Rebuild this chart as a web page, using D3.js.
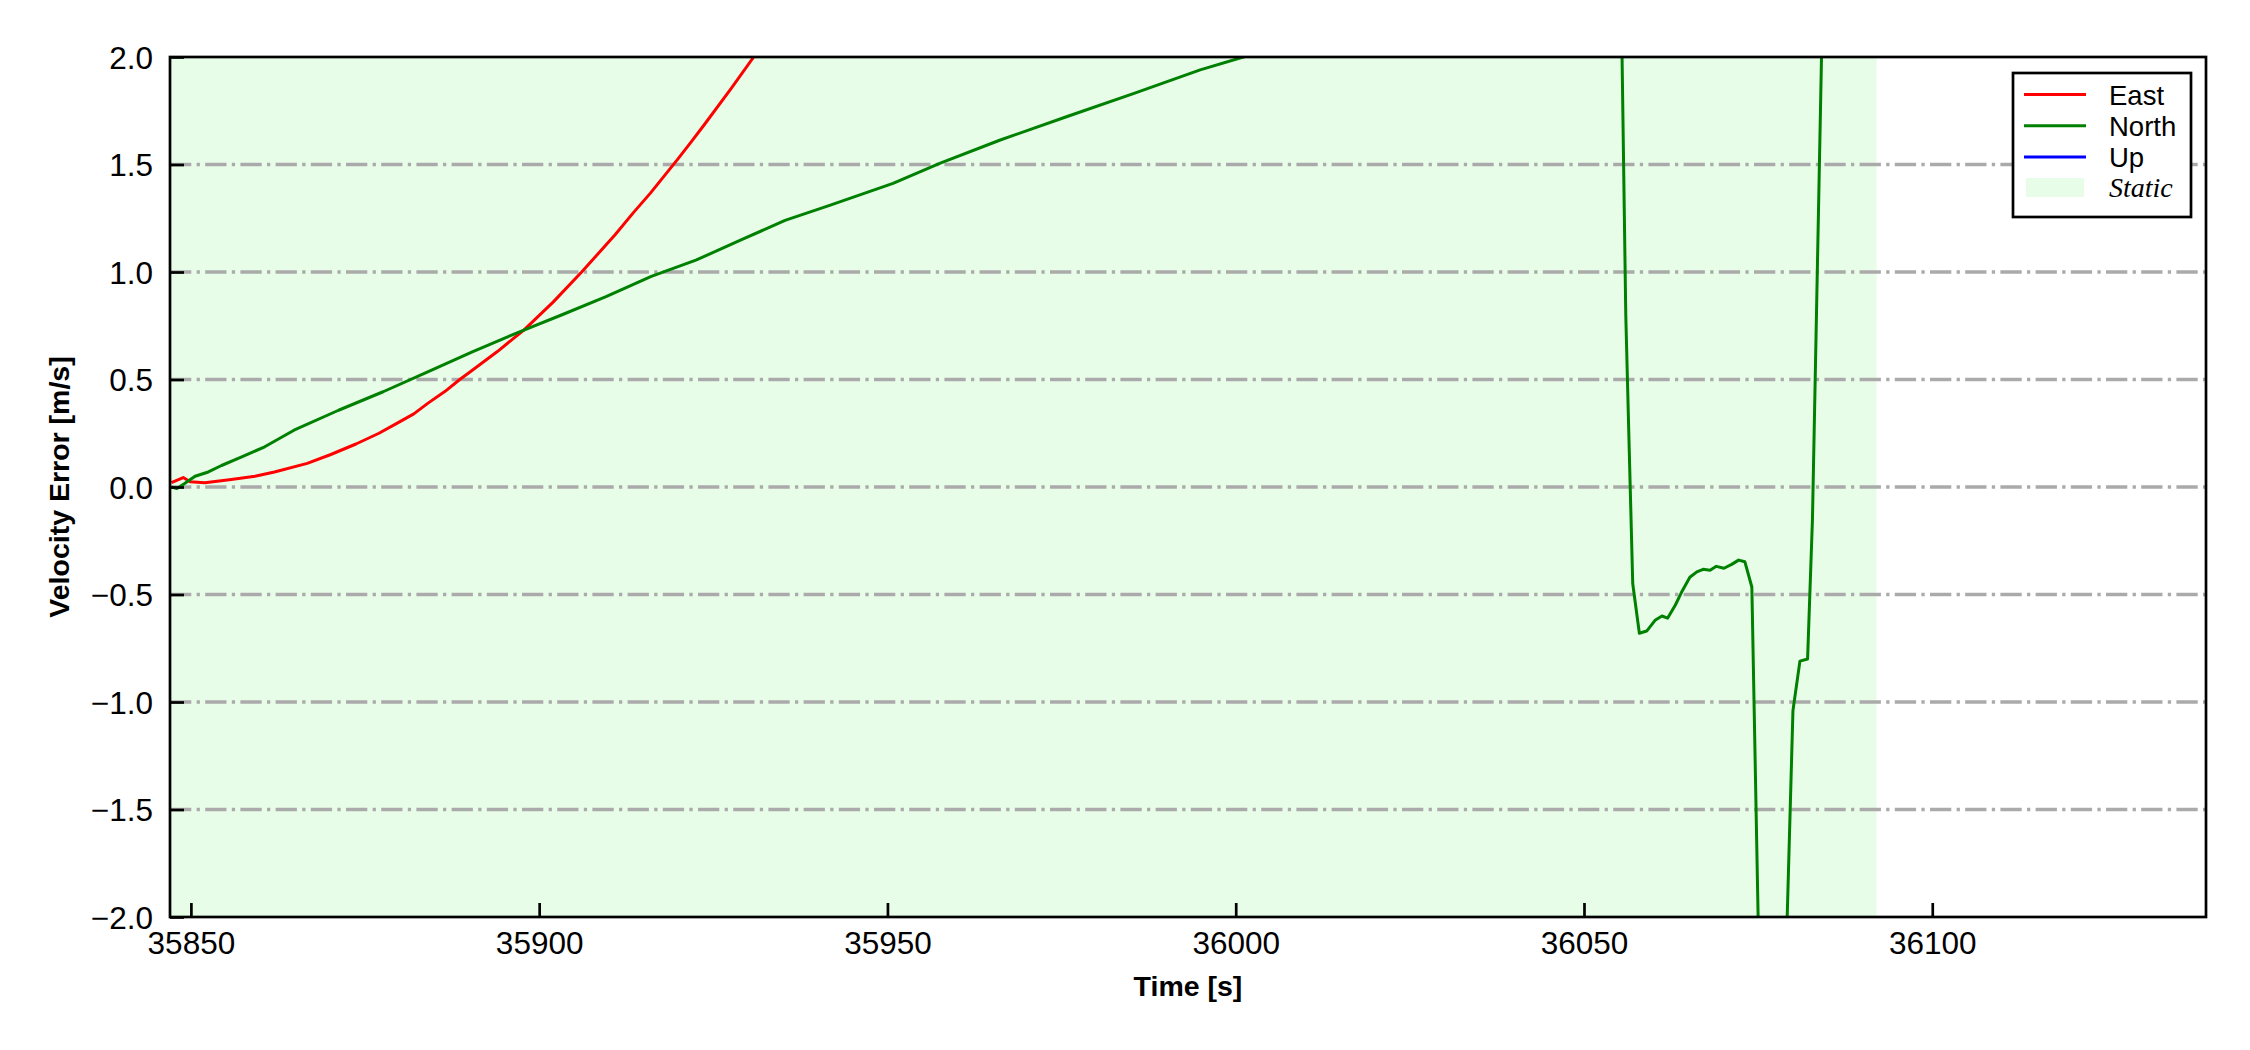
<!DOCTYPE html>
<html>
<head>
<meta charset="utf-8">
<script src="https://cdn.jsdelivr.net/npm/d3@7"></script>
<style>
  body { margin: 0; background: #fff; }
  svg { display: block; }
  .tick text { font-family: "Liberation Sans", Arial, sans-serif; }
</style>
</head>
<body>
<div id="chart"></div>
<script>
var width  = 2250;
var height = 1050;
var margin = { top: 57, right: 44, bottom: 133, left: 170 };

// time axis / velocity axis
var xDomain = [35847, 36139.3];
var yDomain = [-2, 2];
var xTicks = [35850, 35900, 35950, 36000, 36050, 36100];
var yTicks = [-2.0, -1.5, -1.0, -0.5, 0.0, 0.5, 1.0, 1.5, 2.0];
var gridTicks = [-1.5, -1.0, -0.5, 0.0, 0.5, 1.0, 1.5];

// static period (shaded)
var staticStart = 35840;
var staticEnd   = 36092;

// East velocity error
var eastT = [35847.2, 35848.9, 35849.9, 35852, 35855.8, 35859.2, 35862, 35866.7, 35870, 35873.7,
             35877, 35879.5, 35882, 35884, 35886.5, 35888.6, 35890.4, 35894, 35897.8, 35902,
             35906.1, 35910.9, 35913.5, 35916, 35919.9, 35921.8, 35923.7, 35927.6, 35930.8, 35935, 35940];
var eastV = [0.02, 0.044, 0.024, 0.02, 0.035, 0.05, 0.07, 0.11, 0.15, 0.2,
             0.25, 0.295, 0.34, 0.389, 0.445, 0.5, 0.543, 0.63, 0.73, 0.86,
             1.0, 1.173, 1.275, 1.368, 1.525, 1.604, 1.685, 1.855, 2.0, 2.2, 2.45];

// North velocity error
var northT = [35847.2, 35848, 35849.1, 35850.6, 35852.5, 35854.4, 35857.3, 35860.6, 35864.8, 35871.2,
              35877.6, 35884, 35890.4, 35897.8, 35903.2, 35909.6, 35916.1, 35922.5, 35928.9, 35935.3,
              35941.7, 35950.8, 35957.5, 35966.2, 35975.7, 35985.3, 35994.9, 36001.1, 36020, 36040,
              36055.2, 36056.0, 36056.5, 36057.0, 36057.95, 36059.0, 36060.2, 36061.2, 36062.0, 36063.1,
              36064.0, 36065.2, 36066.2, 36067.1, 36068.1, 36069.0, 36070.1, 36071.2, 36072.2, 36073.1,
              36074.1, 36075.0, 36076, 36077, 36078, 36079.0, 36080.0, 36081.0, 36082.1, 36082.8,
              36084.1, 36086, 36092];
var northV = [0.0, -0.007, 0.016, 0.05, 0.07, 0.1, 0.14, 0.187, 0.264, 0.357,
              0.443, 0.536, 0.629, 0.73, 0.80, 0.885, 0.98, 1.055, 1.148, 1.24,
              1.31, 1.412, 1.505, 1.614, 1.722, 1.83, 1.94, 2.0, 2.2, 2.4,
              2.6, 0.8, 0.17, -0.45, -0.68, -0.67, -0.62, -0.60, -0.61, -0.55,
              -0.49, -0.42, -0.395, -0.383, -0.387, -0.369, -0.378, -0.36, -0.34, -0.348,
              -0.465, -2.0, -3.6, -4.2, -3.9, -2.2, -1.04, -0.81, -0.80, -0.15,
              2.0, 3.2, 4.0];

// Up velocity error: never enters the visible window
var upT = [];
var upV = [];

var legendNames  = ["East", "North", "Up"];
var legendColors = ["#ff0000", "#008000", "#0000ff"];

var plotW = width - margin.left - margin.right;
var plotH = height - margin.top - margin.bottom;

var svg = d3.select("#chart").append("svg").attr("width", width).attr("height", height);
var g = svg.append("g").attr("transform", "translate(" + margin.left + "," + margin.top + ")");

var x = d3.scaleLinear().domain(xDomain).range([0, plotW]);
var y = d3.scaleLinear().domain(yDomain).range([plotH, 0]);

svg.append("defs").append("clipPath").attr("id", "clip")
  .append("rect").attr("width", plotW).attr("height", plotH);

var plot = g.append("g").attr("clip-path", "url(#clip)");

// static shading
plot.append("rect")
  .attr("x", x(staticStart)).attr("y", 0)
  .attr("width", x(staticEnd) - x(staticStart)).attr("height", plotH)
  .attr("fill", "#e8fde8");

// dash-dot grid
plot.selectAll(".grid").data(gridTicks).enter().append("line")
  .attr("x1", 0).attr("x2", plotW)
  .attr("y1", function(d){ return y(d); }).attr("y2", function(d){ return y(d); })
  .attr("stroke", "#aaaaaa").attr("stroke-width", 3.3)
  .attr("stroke-dasharray", "21.3,5.3,3.3,5.3");

function zip(ts, vs) { return ts.map(function(t, i){ return [t, vs[i]]; }); }

var line = d3.line().x(function(d){ return x(d[0]); }).y(function(d){ return y(d[1]); });

var series = [zip(eastT, eastV), zip(northT, northV), zip(upT, upV)];
series.forEach(function(s, i) {
  if (!s.length) return;
  plot.append("path").datum(s)
    .attr("fill", "none").attr("stroke", legendColors[i])
    .attr("stroke-width", 3).attr("stroke-linejoin", "round")
    .attr("d", line);
});

// axes, ticks inward
var xAxis = d3.axisBottom(x).tickValues(xTicks).tickSize(-14).tickPadding(15)
  .tickFormat(d3.format("d"));
var yAxis = d3.axisLeft(y).tickValues(yTicks).tickSize(-14).tickPadding(17)
  .tickFormat(function(d){ return d3.format(".1f")(d).replace("-", "\u2212"); });

var gx = g.append("g").attr("transform", "translate(0," + plotH + ")").call(xAxis);
var gy = g.append("g").call(yAxis);
[gx, gy].forEach(function(a) {
  a.select(".domain").remove();
  a.selectAll(".tick line").attr("stroke", "#000").attr("stroke-width", 2.7);
  a.selectAll(".tick text").attr("font-size", 31.5).attr("fill", "#000");
});
gy.selectAll(".tick text").attr("dy", "0.35em");

// frame
g.append("rect").attr("width", plotW).attr("height", plotH)
  .attr("fill", "none").attr("stroke", "#000").attr("stroke-width", 2.7);

// axis labels
svg.append("text")
  .attr("x", margin.left + plotW / 2).attr("y", 996)
  .attr("text-anchor", "middle")
  .attr("font-family", "Liberation Sans, Arial, sans-serif")
  .attr("font-weight", "bold").attr("font-size", 28.5)
  .text("Time [s]");

svg.append("text")
  .attr("transform", "translate(69," + (margin.top + plotH / 2) + ") rotate(-90)")
  .attr("text-anchor", "middle")
  .attr("font-family", "Liberation Sans, Arial, sans-serif")
  .attr("font-weight", "bold").attr("font-size", 28.5)
  .text("Velocity Error [m/s]");

// legend
var lg = svg.append("g").attr("transform", "translate(2013,73)");
lg.append("rect").attr("width", 178).attr("height", 144)
  .attr("fill", "#fff").attr("stroke", "#000").attr("stroke-width", 2.7);
legendNames.forEach(function(name, i) {
  var yy = 21.5 + i * 31.3;
  lg.append("line").attr("x1", 11).attr("x2", 73).attr("y1", yy).attr("y2", yy)
    .attr("stroke", legendColors[i]).attr("stroke-width", 3);
  lg.append("text").attr("x", 96).attr("y", yy + 10)
    .attr("font-family", "Liberation Sans, Arial, sans-serif").attr("font-size", 27.5)
    .text(name);
});
lg.append("rect").attr("x", 13).attr("y", 105).attr("width", 58).attr("height", 19)
  .attr("fill", "#e8fde8");
lg.append("text").attr("x", 96).attr("y", 124)
  .attr("font-family", "Liberation Serif, Times New Roman, serif").attr("font-style", "italic")
  .attr("font-size", 28).text("Static");
</script>
</body>
</html>
